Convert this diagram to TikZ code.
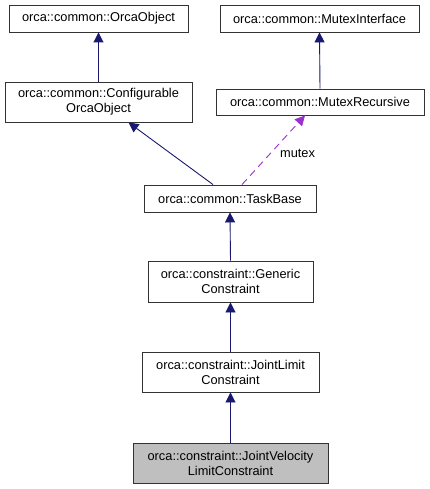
\documentclass[tikz,border=0pt]{standalone}
\usepackage{fontspec}
\setmainfont{Liberation Sans}
\usetikzlibrary{arrows.meta,calc}
\tikzset{
  cls/.style={draw=black!80, line width=0.9pt, fill=white, align=center, inner sep=0pt,
    font=\fontsize{12.8}{15}\selectfont},
  cur/.style={cls, fill=black!25},
  inh/.style={draw=blue!35!black, line width=0.9pt, -{Triangle[length=10pt,width=10pt,fill=blue!35!black]}},
  use/.style={draw=violet!70!magenta, line width=0.9pt, dash pattern=on 7pt off 5pt, -{Triangle[length=10pt,width=10pt,fill=violet!70!magenta]}},
}
\definecolor{navy}{RGB}{25,25,112}
\definecolor{orchid}{RGB}{153,50,204}
\tikzset{
  inh/.style={draw=navy, line width=0.9pt, -{Triangle[length=10pt,width=10pt,fill=navy]}},
  use/.style={draw=orchid, line width=0.9pt, dash pattern=on 7pt off 5pt, -{Triangle[length=10pt,width=10pt,fill=orchid]}},
}
\begin{document}
\begin{tikzpicture}[x=1pt,y=-1pt]
\useasboundingbox (0,0) rectangle (429,489);
\node[cls, minimum width=179pt, minimum height=27pt] (oo) at (98.5,18.5) {orca::common::OrcaObject};
\node[cls, minimum width=199pt, minimum height=27pt] (mi) at (319.5,18.5) {orca::common::MutexInterface};
\node[cls, minimum width=187pt, minimum height=40pt] (co) at (98.5,102) {orca::common::Configurable\\OrcaObject};
\node[cls, minimum width=208pt, minimum height=26pt] (mr) at (320,102) {orca::common::MutexRecursive};
\node[cls, minimum width=172pt, minimum height=27pt] (tb) at (230,198.5) {orca::common::TaskBase};
\node[cls, minimum width=165pt, minimum height=41pt] (gc) at (230.5,281.5) {orca::constraint::Generic\\Constraint};
\node[cls, minimum width=177pt, minimum height=40pt] (jl) at (230.5,372) {orca::constraint::JointLimit\\Constraint};
\node[cur, minimum width=195pt, minimum height=40pt] (jv) at (230.5,463) {orca::constraint::JointVelocity\\LimitConstraint};
\draw[inh] (co.north) -- (oo.south);
\draw[inh] (mr.north) -- (mi.south);
\draw[inh] ($(tb.north)+(-17,0)$) -- ($(co.south)+(30,0)$);
\draw[use] ($(tb.north)+(12,0)$) -- node[pos=0.45, right=6pt, font=\fontsize{12.8}{15}\selectfont, text=black] (ml) {mutex} ($(mr.south)+(-15,0)$);
\draw[inh] (gc.north) -- (tb.south);
\draw[inh] (jl.north) -- (gc.south);
\draw[inh] (jv.north) -- (jl.south);
\end{tikzpicture}
\end{document}
